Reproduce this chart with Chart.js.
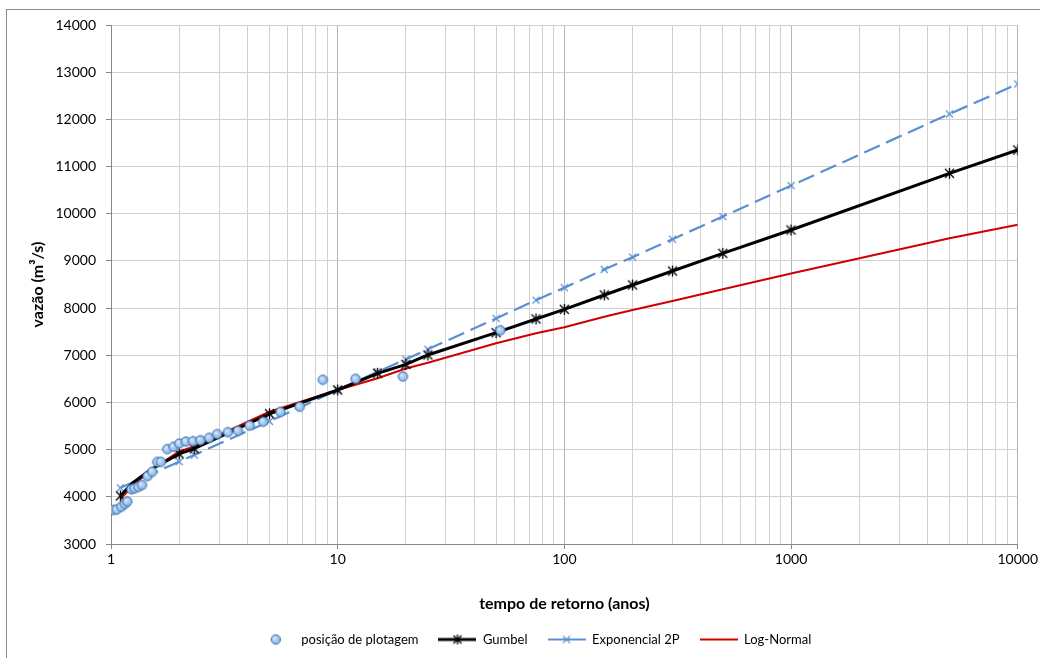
<!DOCTYPE html>
<html lang="pt">
<head>
<meta charset="utf-8">
<title>Vazão x tempo de retorno</title>
<script src="https://cdn.jsdelivr.net/npm/chart.js@4.4.1/dist/chart.umd.min.js"></script>
<style>
  html, body { margin: 0; padding: 0; background: #fff; }
  #wrap { position: relative; width: 1040px; height: 658px; }
</style>
</head>
<body>
<div id="wrap"><canvas id="chartVazao"></canvas></div>
<script>
// Curvas ajustadas: Gumbel e Log-Normal (mesmos tempos de retorno)
const temposRetorno = [1.1, 1.25, 1.5, 2, 2.33, 5, 10, 15, 20, 25, 50, 75, 100, 150, 200, 300, 500, 1000, 5000, 10000];
const vazaoGumbel = [4020, 4300, 4580, 4910, 5020, 5760, 6264, 6618, 6808, 7006, 7480, 7769, 7974, 8278, 8490, 8786, 9161, 9655, 10857, 11351];
const vazaoLogNormal = [3950, 4240, 4570, 4960, 5070, 5805, 6264, 6512, 6720, 6843, 7254, 7466, 7593, 7818, 7960, 8151, 8399, 8733, 9479, 9768];
// pontos só para dar forma à curva, sem marcador
const temposAuxiliares = [1.25, 1.5];

// Exponencial 2P
const temposRetornoExp = [1.1, 2, 2.33, 5, 10, 15, 20, 25, 50, 75, 100, 150, 200, 300, 500, 1000, 5000, 10000];
const vazaoExp = [4190, 4745, 4886, 5600, 6264, 6650, 6914, 7127, 7780, 8168, 8432, 8818, 9080, 9460, 9940, 10595, 12114, 12750];

// Posição de plotagem das vazões observadas
const plotT = [1.02, 1.06, 1.11, 1.15, 1.18, 1.23, 1.27, 1.32, 1.37, 1.45, 1.52, 1.60, 1.66, 1.77, 1.89, 2.0, 2.14, 2.30, 2.48, 2.71, 2.94, 3.28, 3.63, 4.09, 4.69, 5.59, 6.80, 8.6, 12.0, 19.4, 52.2];
const plotQ = [3720, 3730, 3790, 3850, 3900, 4160, 4180, 4210, 4250, 4440, 4530, 4740, 4740, 5010, 5060, 5130, 5170, 5180, 5200, 5250, 5330, 5370, 5400, 5510, 5590, 5800, 5910, 6480, 6500, 6550, 7530];

// Eixo x: décadas com rótulo e linhas de grade intermediárias
const decadas = [1, 10, 100, 1000, 10000];
const multiplos = [1, 2, 3, 4, 5, 6, 7, 8, 9];
const marcasX = [];
decadas.forEach(d => {
  multiplos.forEach(m => {
    if (d * m <= 10000) marcasX.push(d * m);
  });
});

const AZUL = '#5a8fd2';
const VERMELHO = '#d00000';
const FONTE = 'Lato, "Liberation Sans", sans-serif';

const pares = (xs, ys) => xs.map((x, i) => ({ x: x, y: ys[i] }));

// Marcadores desenhados em canvas (asterisco, xis, círculo)
function novoCanvas(w, h) {
  const c = document.createElement('canvas');
  c.width = w;
  c.height = h;
  return c;
}

function desenhaAsterisco(g, cx, cy, r) {
  g.strokeStyle = '#000';
  g.lineWidth = 1.3;
  g.beginPath();
  g.moveTo(cx - r, cy - r); g.lineTo(cx + r, cy + r);
  g.moveTo(cx + r, cy - r); g.lineTo(cx - r, cy + r);
  g.moveTo(cx, cy - r - 1); g.lineTo(cx, cy + r + 1);
  g.stroke();
}

function desenhaXis(g, cx, cy, r) {
  g.strokeStyle = AZUL;
  g.lineWidth = 1.2;
  g.beginPath();
  g.moveTo(cx - r, cy - r); g.lineTo(cx + r, cy + r);
  g.moveTo(cx + r, cy - r); g.lineTo(cx - r, cy + r);
  g.stroke();
}

function desenhaCirculo(g, cx, cy, r) {
  const grad = g.createRadialGradient(cx - 1.5, cy - 1.5, 0.5, cx, cy, r);
  grad.addColorStop(0, '#d6e7fa');
  grad.addColorStop(1, '#7eaee6');
  g.fillStyle = grad;
  g.strokeStyle = '#3b6eab';
  g.lineWidth = 1;
  g.beginPath();
  g.arc(cx, cy, r, 0, Math.PI * 2);
  g.fill();
  g.stroke();
}

const marcaGumbel = novoCanvas(13, 13);
desenhaAsterisco(marcaGumbel.getContext('2d'), 6.5, 6.5, 4.5);

const marcaExp = novoCanvas(11, 11);
desenhaXis(marcaExp.getContext('2d'), 5.5, 5.5, 3.5);

const marcaPlot = novoCanvas(13, 13);
desenhaCirculo(marcaPlot.getContext('2d'), 6.5, 6.5, 4.7);

// Símbolos da legenda
function simbolo(desenha) {
  const c = novoCanvas(38, 14);
  desenha(c.getContext('2d'));
  return c;
}

const simbolos = [
  simbolo(g => desenhaCirculo(g, 19, 7, 4.7)),
  simbolo(g => {
    g.strokeStyle = '#000'; g.lineWidth = 3;
    g.beginPath(); g.moveTo(0, 7); g.lineTo(38, 7); g.stroke();
    desenhaAsterisco(g, 19, 7, 4);
  }),
  simbolo(g => {
    g.strokeStyle = AZUL; g.lineWidth = 2;
    g.beginPath(); g.moveTo(0, 7); g.lineTo(38, 7); g.stroke();
    desenhaXis(g, 19, 7, 3.5);
  }),
  simbolo(g => {
    g.strokeStyle = VERMELHO; g.lineWidth = 2;
    g.beginPath(); g.moveTo(0, 7); g.lineTo(38, 7); g.stroke();
  })
];

// Moldura cinza em volta do gráfico
const moldura = {
  id: 'moldura',
  beforeDraw(chart) {
    const ctx = chart.ctx;
    ctx.save();
    ctx.fillStyle = '#fff';
    ctx.fillRect(0, 0, chart.width, chart.height);
    ctx.strokeStyle = '#8c8c8c';
    ctx.lineWidth = 1;
    ctx.strokeRect(6.5, 9.5, chart.width, chart.height);
    ctx.restore();
  }
};

Chart.defaults.font.family = FONTE;
Chart.defaults.color = '#000';

const raioMarcador = r => c => temposAuxiliares.includes(temposRetorno[c.dataIndex]) ? 0 : r;

const ctx = document.getElementById('chartVazao');

new Chart(ctx, {
  type: 'scatter',
  data: {
    datasets: [
      {
        label: 'posição de plotagem',
        data: pares(plotT, plotQ),
        showLine: false,
        pointStyle: marcaPlot,
        pointRadius: 5
      },
      {
        label: 'Gumbel',
        data: pares(temposRetorno, vazaoGumbel),
        showLine: true,
        borderColor: '#000',
        borderWidth: 3,
        pointStyle: marcaGumbel,
        pointRadius: raioMarcador(5)
      },
      {
        label: 'Exponencial 2P',
        data: pares(temposRetornoExp, vazaoExp),
        showLine: true,
        borderColor: AZUL,
        borderWidth: 2.2,
        borderDash: [17, 7],
        pointStyle: marcaExp,
        pointRadius: 4
      },
      {
        label: 'Log-Normal',
        data: pares(temposRetorno, vazaoLogNormal),
        showLine: true,
        borderColor: VERMELHO,
        borderWidth: 2,
        pointRadius: 0
      }
    ]
  },
  options: {
    responsive: true,
    maintainAspectRatio: false,
    animation: false,
    layout: { padding: { left: 50, right: 22, top: 25, bottom: 2 } },
    scales: {
      x: {
        type: 'logarithmic',
        min: 1,
        max: 10000,
        afterBuildTicks: scale => {
          scale.ticks = marcasX.map(v => ({ value: v, major: decadas.includes(v) }));
        },
        afterFit: scale => { scale.height = 69; },
        ticks: {
          autoSkip: false,
          maxRotation: 0,
          padding: 2,
          font: { size: 14 },
          callback: v => decadas.includes(v) ? String(v) : ''
        },
        grid: {
          color: c => (c.tick && c.tick.major) ? '#b4b4b4' : '#d0d0d0',
          tickColor: c => (c.tick && c.tick.major) ? '#868686' : 'rgba(0,0,0,0)',
          tickLength: 5
        },
        border: { color: '#868686' },
        title: {
          display: true,
          text: 'tempo de retorno (anos)',
          font: { size: 16, weight: 'bold' },
          padding: { top: 0, bottom: 0 }
        }
      },
      y: {
        min: 3000,
        max: 14000,
        afterFit: scale => { scale.width = 61; },
        ticks: {
          stepSize: 1000,
          padding: 10,
          font: { size: 14 },
          callback: v => String(v)
        },
        grid: {
          color: '#d0d0d0',
          tickColor: '#868686',
          tickLength: 5
        },
        border: { color: '#868686' },
        title: {
          display: true,
          text: 'vazão (m³/s)',
          font: { size: 16, weight: 'bold' },
          padding: { top: -22, bottom: 0 }
        }
      }
    },
    plugins: {
      tooltip: { enabled: false },
      legend: {
        position: 'bottom',
        labels: {
          usePointStyle: true,
          pointStyleWidth: 38,
          padding: 20,
          font: { size: 13 },
          generateLabels: chart => chart.data.datasets.map((ds, i) => ({
            text: ds.label,
            pointStyle: simbolos[i],
            datasetIndex: i,
            hidden: false,
            fontColor: '#000',
            lineWidth: 0,
            strokeStyle: 'rgba(0,0,0,0)',
            fillStyle: 'rgba(0,0,0,0)'
          }))
        }
      }
    }
  },
  plugins: [moldura]
});
</script>
</body>
</html>
